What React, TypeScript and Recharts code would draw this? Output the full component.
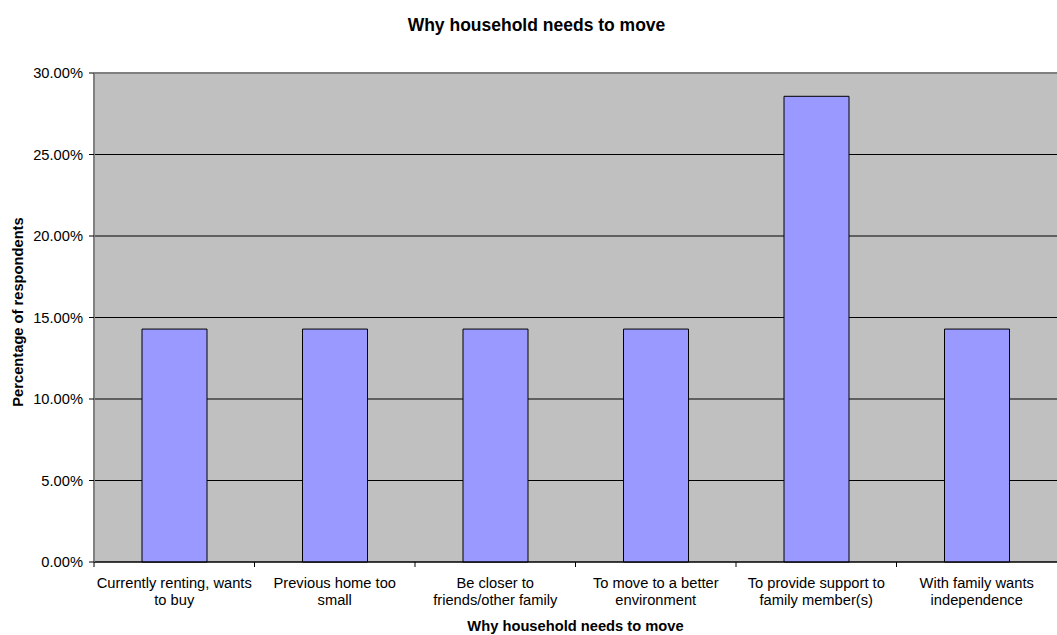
import { BarChart, Bar, XAxis, YAxis, CartesianGrid, ReferenceLine, Label } from "recharts";

const categories = [
  "Currently renting, wants\nto buy",
  "Previous home too\nsmall",
  "Be closer to\nfriends/other family",
  "To move to a better\nenvironment",
  "To provide support to\nfamily member(s)",
  "With family wants\nindependence",
];

const shares = [0.1429, 0.1429, 0.1429, 0.1429, 0.2857, 0.1429];

const yTicks = [0, 0.05, 0.1, 0.15, 0.2, 0.25, 0.3];

const data = categories.map((name, i) => ({ name, value: shares[i] }));

const FONT = "Arial, 'Liberation Sans', sans-serif";

// two-line category label plus a tick mark on the left edge of each band
function CategoryTick(props: any) {
  const { x, y, payload, width, visibleTicksCount } = props;
  const half = payload.offset ?? width / visibleTicksCount / 2;
  const lines: string[] = String(payload.value).split("\n");
  return (
    <g>
      <line x1={x - half} y1={y - 8} x2={x - half} y2={y - 3} stroke="#000" />
      <text x={x} y={y} textAnchor="middle" fontFamily={FONT} fontSize={14.7} fill="#000">
        {lines.map((l, i) => (
          <tspan key={i} x={x} y={y + 18 + i * 17}>
            {l}
          </tspan>
        ))}
      </text>
    </g>
  );
}

export default function App() {
  return (
    <div style={{ position: "relative", width: 1057, height: 635, background: "#fff", fontFamily: FONT }}>
      <style>{`body{margin:0}`}</style>
      <BarChart
        width={1057}
        height={635}
        data={data}
        margin={{ top: 73, right: 0, bottom: 0, left: 0 }}
      >
        <CartesianGrid fill="#C0C0C0" stroke="#000" vertical={false} />
        <XAxis
          dataKey="name"
          height={73}
          interval={0}
          tickLine={false}
          axisLine={{ stroke: "#000" }}
          tick={<CategoryTick />}
        >
          <Label
            value="Why household needs to move"
            position="insideBottom"
            offset={4}
            style={{ fontWeight: "bold", fontSize: 14.7, fontFamily: FONT, fill: "#000" }}
          />
        </XAxis>
        <YAxis
          width={94}
          domain={[0, 0.3]}
          ticks={yTicks}
          interval={0}
          tickFormatter={(v: number) => `${(v * 100).toFixed(2)}%`}
          axisLine={{ stroke: "#808080", strokeWidth: 2 }}
          tickLine={{ stroke: "#000" }}
          tickSize={5}
          tickMargin={6}
          tick={{ fontSize: 14.7, fontFamily: FONT, fill: "#000" }}
        />
        <ReferenceLine y={0.3} stroke="#808080" strokeWidth={2} />
        <Bar dataKey="value" fill="#9999FF" stroke="#000" strokeWidth={1} barSize={65} isAnimationActive={false} />
      </BarChart>
      <svg
        width={1057}
        height={635}
        style={{ position: "absolute", left: 0, top: 0, pointerEvents: "none" }}
      >
        <text x={536.5} y={31} textAnchor="middle" fontFamily={FONT} fontWeight="bold" fontSize={17.5} fill="#000">
          Why household needs to move
        </text>
        <text
          transform="translate(22.5, 312) rotate(-90)"
          textAnchor="middle"
          fontFamily={FONT}
          fontWeight="bold"
          fontSize={14.7}
          fill="#000"
        >
          Percentage of respondents
        </text>
      </svg>
    </div>
  );
}
